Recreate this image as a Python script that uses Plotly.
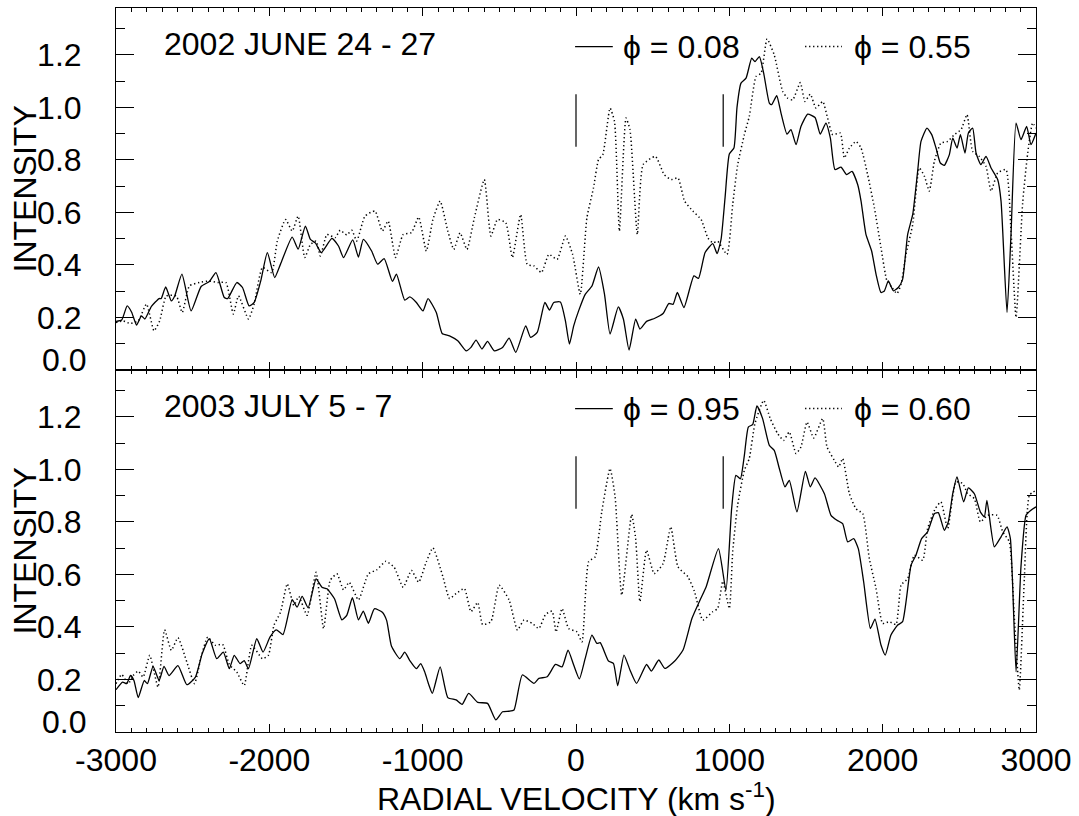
import plotly.graph_objects as go
from plotly.subplots import make_subplots

# ---------------- data ----------------
# 2002 June 24-27, phi = 0.08 (solid)
v_2002_a = [-3000,-2963,-2927,-2898,-2866,-2834,-2812,-2769,-2719,-2705,-2676,-2639,-2617,-2570,-2510,-2445,-2391,-2348,-2294,-2272,
            -2212,-2175,-2132,-2099,-2056,-2013,-1965,-1927,-1851,-1812,-1765,-1732,-1700,-1661,-1592,-1549,-1516,-1456,-1419,-1387,
            -1333,-1294,-1251,-1197,-1171,-1117,-1084,-1041,-998,-965,-911,-873,-825,-771,-717,-685,-652,-613,-577,-533,
            -479,-436,-393,-328,-296,-253,-203,-173,-145,-102,-69,-43,-15,17,60,104,147,186,222,276,
            309,346,389,417,460,514,568,605,633,661,704,769,799,842,892,920,946,972,1000,1030,
            1050,1076,1109,1146,1167,1196,1224,1261,1276,1309,1337,1376,1402,1435,1467,1511,1559,1593,1630,1659,
            1689,1728,1765,1800,1837,1859,1891,1928,1957,1989,2011,2037,2070,2102,2130,2163,2196,2228,2250,2289,
            2320,2348,2376,2402,2435,2457,2485,2507,2537,2559,2587,2609,2641,2674,2707,2750,2772,2811,2837,2870,
            2902,2939,2967,3000]
i_2002_a = [0.185,0.19,0.244,0.22,0.171,0.206,0.194,0.242,0.272,0.272,0.316,0.263,0.282,0.365,0.225,0.318,0.337,0.371,0.276,0.272,
            0.333,0.314,0.244,0.257,0.339,0.447,0.352,0.403,0.506,0.46,0.548,0.497,0.484,0.447,0.501,0.472,0.428,0.495,0.43,0.497,
            0.453,0.403,0.424,0.337,0.365,0.266,0.278,0.257,0.225,0.272,0.219,0.139,0.13,0.111,0.073,0.086,0.114,0.08,0.109,0.073,
            0.086,0.121,0.067,0.168,0.124,0.143,0.257,0.228,0.257,0.259,0.187,0.099,0.168,0.225,0.288,0.32,0.392,0.288,0.137,0.24,
            0.194,0.076,0.194,0.156,0.185,0.197,0.215,0.253,0.25,0.295,0.238,0.358,0.349,0.447,0.481,0.443,0.497,0.655,0.822,0.845,
            1.0,1.092,1.111,1.187,1.174,1.193,1.13,1.016,1.01,1.044,0.978,0.898,0.915,0.858,0.927,0.974,0.961,0.898,0.94,0.883,
            0.763,0.772,0.744,0.756,0.706,0.643,0.516,0.453,0.364,0.295,0.301,0.339,0.301,0.314,0.345,0.516,0.592,0.756,0.87,0.921,
            0.896,0.845,0.788,0.779,0.82,0.883,0.845,0.896,0.826,0.902,0.921,0.826,0.782,0.813,0.769,0.725,0.643,0.219,0.516,0.94,
            0.877,0.927,0.858,0.902]

# 2002 June 24-27, phi = 0.55 (dotted)
v_2002_b = [-3000,-2952,-2909,-2855,-2801,-2752,-2715,-2672,-2607,-2568,-2521,-2456,-2391,-2337,-2283,-2235,-2201,-2136,-2099,-2045,
            -1985,-1948,-1894,-1851,-1812,-1769,-1732,-1695,-1667,-1624,-1570,-1538,-1495,-1462,-1430,-1376,-1311,-1263,-1225,-1177,
            -1127,-1073,-1026,-976,-933,-886,-836,-797,-756,-711,-663,-598,-555,-512,-458,-415,-361,-318,-274,-225,
            -177,-123,-69,-22,28,71,114,147,175,222,251,283,326,352,400,438,518,575,622,665,
            708,762,816,860,892,924,985,1022,1054,1098,1130,1174,1207,1246,1293,1348,1380,1413,1463,1493,
            1528,1565,1609,1641,1674,1724,1750,1783,1826,1859,1902,1946,1989,2028,2061,2093,2120,2152,2196,2239,
            2272,2304,2337,2380,2424,2467,2511,2550,2587,2630,2674,2707,2750,2804,2837,2870,2913,2946,2978,3000]
i_2002_b = [0.181,0.187,0.177,0.187,0.251,0.149,0.187,0.282,0.282,0.219,0.32,0.333,0.339,0.333,0.333,0.213,0.282,0.194,0.251,0.39,
            0.371,0.491,0.573,0.529,0.586,0.428,0.478,0.491,0.434,0.516,0.504,0.532,0.514,0.532,0.491,0.586,0.605,0.529,0.567,0.428,
            0.516,0.523,0.582,0.453,0.573,0.643,0.529,0.459,0.522,0.459,0.579,0.725,0.51,0.573,0.56,0.428,0.592,0.402,0.396,0.371,
            0.44,0.421,0.51,0.44,0.288,0.579,0.693,0.801,0.82,0.997,0.946,0.529,0.959,0.915,0.516,0.782,0.813,0.744,0.725,0.731,
            0.643,0.605,0.573,0.503,0.484,0.49,0.44,0.63,0.78,0.896,0.965,1.117,1.13,1.26,1.199,1.06,1.035,1.028,1.094,1.022,
            1.05,0.997,1.022,0.959,0.896,0.902,0.807,0.845,0.87,0.845,0.744,0.617,0.466,0.339,0.314,0.291,0.326,0.44,0.554,0.769,
            0.738,0.681,0.794,0.864,0.87,0.896,0.915,0.972,0.832,0.813,0.775,0.681,0.75,0.763,0.529,0.2,0.636,0.826,0.94,0.921]

# 2003 July 5-7, phi = 0.95 (solid)
v_2003_a = [-3000,-2957,-2931,-2905,-2883,-2855,-2816,-2795,-2758,-2719,-2687,-2654,-2596,-2538,-2482,-2438,-2391,-2343,-2300,-2261,
            -2229,-2190,-2164,-2136,-2082,-2041,-1996,-1955,-1911,-1851,-1819,-1786,-1747,-1695,-1657,-1624,-1575,-1527,-1495,-1458,
            -1419,-1387,-1354,-1315,-1263,-1235,-1203,-1149,-1117,-1084,-1041,-1013,-987,-960,-937,-886,-836,-782,-743,-700,
            -641,-577,-523,-479,-436,-404,-350,-274,-242,-188,-134,-91,-52,-15,22,60,104,136,158,212,
            244,272,313,352,395,460,492,540,579,644,698,756,812,849,929,978,1015,1043,1072,1098,
            1124,1152,1180,1217,1261,1293,1326,1363,1391,1441,1496,1528,1559,1620,1663,1702,1739,1772,1811,1841,
            1876,1920,1950,1989,2017,2054,2098,2130,2185,2217,2254,2293,2337,2363,2402,2428,2457,2485,2528,2559,
            2598,2637,2663,2680,2728,2772,2811,2833,2870,2902,2935,2967,3000]
i_2003_a = [0.161,0.19,0.184,0.215,0.196,0.131,0.196,0.184,0.25,0.196,0.25,0.215,0.253,0.18,0.209,0.298,0.355,0.279,0.304,0.241,
            0.292,0.26,0.272,0.241,0.355,0.304,0.361,0.389,0.371,0.504,0.475,0.516,0.473,0.583,0.551,0.545,0.507,0.427,0.444,0.511,
            0.427,0.46,0.414,0.469,0.456,0.425,0.326,0.279,0.304,0.272,0.241,0.26,0.229,0.18,0.147,0.248,0.131,0.122,0.105,0.147,
            0.113,0.109,0.046,0.077,0.079,0.084,0.217,0.185,0.204,0.21,0.257,0.248,0.312,0.255,0.202,0.28,0.369,0.337,0.34,0.27,
            0.261,0.176,0.293,0.236,0.185,0.257,0.232,0.274,0.242,0.27,0.312,0.432,0.506,0.553,0.698,0.54,0.85,0.977,0.964,1.053,
            1.161,1.17,1.241,1.193,1.091,1.072,1.003,0.933,0.958,0.838,0.992,0.933,0.967,0.907,0.825,0.806,0.793,0.724,0.736,0.698,
            0.572,0.394,0.43,0.331,0.293,0.369,0.407,0.42,0.635,0.673,0.736,0.762,0.831,0.835,0.768,0.8,0.907,0.971,0.876,0.929,
            0.907,0.838,0.819,0.882,0.705,0.743,0.781,0.736,0.229,0.629,0.825,0.844,0.857]

# 2003 July 5-7, phi = 0.60 (dotted)
v_2003_b = [-3000,-2963,-2920,-2888,-2855,-2823,-2780,-2726,-2683,-2639,-2596,-2538,-2488,-2445,-2402,-2352,-2305,-2261,-2212,-2164,
            -2114,-2045,-2006,-1970,-1927,-1883,-1840,-1808,-1754,-1695,-1646,-1603,-1559,-1516,-1479,-1419,-1354,-1300,-1240,-1186,
            -1127,-1073,-1026,-976,-933,-868,-825,-782,-728,-685,-641,-609,-555,-501,-436,-382,-339,-285,-242,-199,
            -156,-130,-91,-48,6,39,82,125,168,222,255,298,363,389,417,460,510,568,618,665,
            730,773,827,892,924,957,1000,1022,1054,1098,1130,1167,1224,1267,1315,1354,1391,1435,1467,1507,
            1550,1609,1637,1685,1713,1739,1783,1826,1870,1913,1957,2000,2043,2087,2120,2163,2207,2261,2293,2343,
            2380,2424,2478,2522,2554,2598,2637,2685,2746,2783,2826,2859,2891,2924,2957,3000]
i_2003_b = [0.184,0.219,0.184,0.215,0.232,0.209,0.292,0.171,0.389,0.311,0.359,0.266,0.184,0.285,0.361,0.33,0.334,0.257,0.228,0.177,
            0.33,0.279,0.292,0.406,0.456,0.564,0.482,0.516,0.444,0.608,0.393,0.577,0.602,0.541,0.57,0.503,0.602,0.617,0.65,0.627,
            0.551,0.615,0.57,0.648,0.701,0.591,0.508,0.527,0.546,0.458,0.493,0.409,0.42,0.559,0.502,0.388,0.426,0.413,0.394,0.447,
            0.46,0.381,0.47,0.394,0.381,0.343,0.648,0.667,0.838,1.003,0.895,0.521,0.828,0.736,0.496,0.692,0.603,0.641,0.781,0.629,
            0.591,0.534,0.426,0.458,0.47,0.574,0.47,0.686,0.863,0.996,1.041,1.174,1.262,1.193,1.136,1.11,1.142,1.06,1.085,1.18,
            1.119,1.193,1.085,1.034,1.009,1.041,0.907,0.85,0.831,0.66,0.546,0.413,0.42,0.409,0.559,0.584,0.673,0.654,0.774,0.85,
            0.876,0.774,0.952,0.946,0.907,0.888,0.8,0.825,0.825,0.762,0.724,0.432,0.16,0.584,0.901,0.92]

panel_titles = ["2002 JUNE 24 - 27", "2003 JULY 5 - 7"]
solid_labels = ["\u03d5 = 0.08", "\u03d5 = 0.95"]
dotted_labels = ["\u03d5 = 0.55", "\u03d5 = 0.60"]
marker_velocities = [0, 960]
marker_span = [0.85, 1.05]
x_ticks = [-3000, -2000, -1000, 0, 1000, 2000, 3000]
x_ticklabels = ["-3000", "-2000", "-1000", "0", "1000", "2000", "3000"]
y_ticks = [0.0, 0.2, 0.4, 0.6, 0.8, 1.0, 1.2]

# ---------------- figure ----------------
FONT = "Liberation Sans, Arial, Helvetica, sans-serif"
FS = 32
fig = make_subplots(rows=2, cols=1, shared_xaxes=True, vertical_spacing=0)

panels = [(v_2002_a, i_2002_a, v_2002_b, i_2002_b), (v_2003_a, i_2003_a, v_2003_b, i_2003_b)]
DOT = "1.3px,2.7px"
for r, (va, ia, vb, ib) in enumerate(panels, start=1):
    fig.add_trace(go.Scatter(x=va, y=ia, mode="lines", line=dict(color="black", width=1.3, shape="spline", smoothing=0.5),
                             showlegend=False, hoverinfo="skip"), row=r, col=1)
    fig.add_trace(go.Scatter(x=vb, y=ib, mode="lines", line=dict(color="black", width=1.5, dash=DOT, shape="spline", smoothing=0.5),
                             showlegend=False, hoverinfo="skip"), row=r, col=1)
    mx, my = [], []
    for mv in marker_velocities:
        mx += [mv, mv, None]
        my += [marker_span[0], marker_span[1], None]
    fig.add_trace(go.Scatter(x=mx, y=my, mode="lines", line=dict(color="black", width=1.2),
                             showlegend=False, hoverinfo="skip"), row=r, col=1)

xcommon = dict(range=[-3000, 3000], tickmode="array", tickvals=x_ticks, ticktext=x_ticklabels,
               ticks="inside", ticklen=8, tickwidth=1, tickcolor="black",
               showline=True, linecolor="black", linewidth=1, mirror="ticks", showgrid=False, zeroline=False,
               minor=dict(tickmode="linear", tick0=0, dtick=100, ticks="inside", ticklen=4, tickcolor="black",
                          tickwidth=1, showgrid=False),
               tickfont=dict(family=FONT, size=FS, color="black"))
ycommon = dict(range=[0, 1.378], tickmode="array", tickvals=y_ticks, ticktext=[""] + ["%.1f" % t for t in y_ticks[1:]],
               ticks="inside", ticklen=18, tickwidth=1, tickcolor="black",
               showline=True, linecolor="black", linewidth=1, mirror="ticks", showgrid=False, zeroline=False,
               minor=dict(tickmode="linear", tick0=0, dtick=0.1, ticks="inside", ticklen=9, tickcolor="black",
                          tickwidth=1, showgrid=False),
               tickfont=dict(family=FONT, size=FS, color="black"), ticklabelstandoff=27)

fig.update_xaxes(**xcommon)
fig.update_xaxes(showticklabels=False, row=1, col=1)
fig.update_xaxes(ticklabelstandoff=0, row=2, col=1)
fig.update_yaxes(**ycommon)

W, H = 1079, 816
ML, MR, MT, MB = 116, 39, 7, 84
fig.update_layout(width=W, height=H, margin=dict(l=ML, r=MR, t=MT, b=MB, pad=0),
                  paper_bgcolor="white", plot_bgcolor="white",
                  font=dict(family=FONT, size=FS, color="black"))

ann = []
shapes = []
for r in (1, 2):
    xr = "x" if r == 1 else "x2"
    yr = "y" if r == 1 else "y2"
    ann.append(dict(text=panel_titles[r - 1], x=-2701, y=1.24, xref=xr, yref=yr, xanchor="left", yanchor="middle",
                    showarrow=False, font=dict(family=FONT, size=FS, color="black")))
    ann.append(dict(text=solid_labels[r - 1], x=292, y=1.231, xref=xr, yref=yr, xanchor="left", yanchor="middle",
                    showarrow=False, font=dict(family=FONT, size=FS, color="black")))
    ann.append(dict(text=dotted_labels[r - 1], x=1799, y=1.231, xref=xr, yref=yr, xanchor="left", yanchor="middle",
                    showarrow=False, font=dict(family=FONT, size=FS, color="black")))
    # "0.0" tick label, drawn slightly above the axis as in the original
    ann.append(dict(text="0.0", x=0, y=0, xref="paper", yref=yr, xanchor="right", yanchor="middle",
                    xshift=-28, yshift=10, showarrow=False, font=dict(family=FONT, size=FS, color="black")))
    shapes.append(dict(type="line", xref=xr, yref=yr, x0=-6, x1=240, y0=1.231, y1=1.231,
                       line=dict(color="black", width=1.2)))
    shapes.append(dict(type="line", xref=xr, yref=yr, x0=1494, x1=1734, y0=1.231, y1=1.231,
                       line=dict(color="black", width=1.5, dash=DOT)))
    # y-axis titles
    ann.append(dict(text="INTENSITY", xref="paper", yref="paper", x=(25 - ML) / (W - ML - MR),
                    y=0.75 if r == 1 else 0.25, xanchor="center", yanchor="middle", textangle=-90,
                    showarrow=False, font=dict(family=FONT, size=FS, color="black")))

ann.append(dict(text="RADIAL VELOCITY (km s<sup>-1</sup>)", xref="paper", yref="paper", x=0.5,
                y=-(797 - (H - MB)) / (H - MT - MB), xanchor="center", yanchor="middle",
                showarrow=False, font=dict(family=FONT, size=FS, color="black")))

fig.update_layout(annotations=ann, shapes=shapes)
fig.write_html("out.html")
